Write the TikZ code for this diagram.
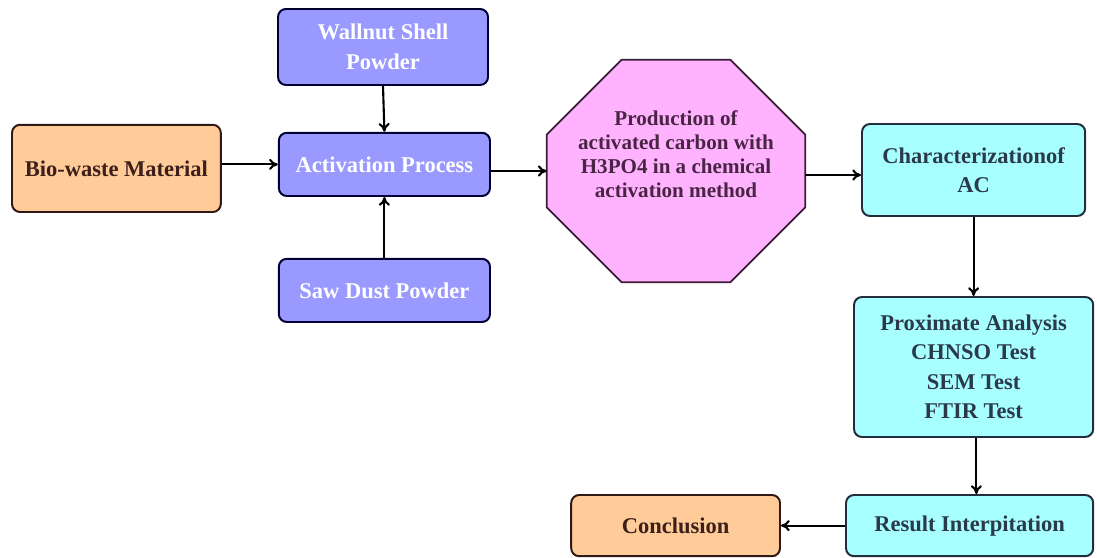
\documentclass[tikz,border=0pt]{standalone}
\usepackage{fontspec}
\setmainfont{Liberation Serif}
\usetikzlibrary{positioning,arrows.meta}
\definecolor{orfill}{HTML}{FFCC99}
\definecolor{blfill}{HTML}{9999FF}
\definecolor{pkfill}{HTML}{FFB3FF}
\definecolor{cyfill}{HTML}{A8FFFF}
\definecolor{brtext}{HTML}{3C1F1A}
\definecolor{pktext}{HTML}{4A2444}
\definecolor{cytext}{HTML}{2B3A4B}
\newcommand{\chamf}{1.875cm}
\tikzset{
  box/.style={draw, line width=1.4pt, rounded corners=0.2cm, align=center,
    font=\fontsize{16}{21}\selectfont\bfseries},
  orbox/.style={box, fill=orfill, draw=brtext!80!black, text=brtext},
  blbox/.style={box, fill=blfill, draw=blue!20!black, text=white},
  cybox/.style={box, fill=cyfill, draw=cytext!80!black, text=cytext},
  octline/.style={draw=pktext!80!black, line width=1.3pt, fill=pkfill},
  arr/.style={line width=1.5pt, -{To[length=2.2mm,width=2.8mm]}}
}
\begin{document}
\begin{tikzpicture}
  \useasboundingbox (0,0) rectangle (27.425,-13.95);
  % ------------------------------------------------------------------ raw material
  \node[orbox, minimum width=5.22cm, minimum height=2.18cm] (bio) at (2.91,-4.21) {Bio-waste Material};
  \node[blbox, minimum width=5.25cm, minimum height=1.9cm] (wall) at (9.575,-1.175) {Wallnut Shell\\Powder};
  \node[blbox, minimum width=5.28cm, minimum height=1.58cm] (act) at (9.61,-4.11) {Activation Process};
  \node[blbox, minimum width=5.28cm, minimum height=1.58cm] (saw) at (9.61,-7.26) {Saw Dust Powder};
  % ------------------------------------------------------------------ production (octagon)
  \node[minimum width=6.45cm, minimum height=5.55cm, inner sep=0pt] (oct) at (16.9,-4.275) {};
  \draw[octline] ([xshift=\chamf]oct.north west) -- ([xshift=-\chamf]oct.north east)
    -- ([yshift=-\chamf]oct.north east) -- ([yshift=\chamf]oct.south east)
    -- ([xshift=-\chamf]oct.south east) -- ([xshift=\chamf]oct.south west)
    -- ([yshift=\chamf]oct.south west) -- ([yshift=-\chamf]oct.north west) -- cycle;
  \node[align=center, text=pktext, font=\fontsize{15}{17}\selectfont\bfseries] (octtxt)
    at (16.9,-3.85) {Production of\\activated carbon with\\H3PO4 in a chemical\\activation method};
  % ------------------------------------------------------------------ characterization
  \node[cybox, minimum width=5.58cm, minimum height=2.3cm] (char) at (24.34,-4.25) {Characterizationof\\AC};
  \node[cybox, minimum width=5.98cm, minimum height=3.5cm] (prox) at (24.34,-9.175)
    {Proximate Analysis\\CHNSO Test\\SEM Test\\FTIR Test};
  \node[cybox, minimum width=6.18cm, minimum height=1.53cm] (res) at (24.24,-13.14) {Result Interpitation};
  \node[orbox, minimum width=5.22cm, minimum height=1.53cm] (conc) at (16.89,-13.14) {Conclusion};
  % ------------------------------------------------------------------ arrows
  \draw[arr] (bio.east |- act) -- (act.west);
  \draw[arr] (wall.south) -- (act.north);
  \draw[arr] (saw.north) -- (act.south);
  \draw[arr] (act.east |- oct) -- (oct.west);
  \draw[arr] ([yshift=-0.1cm]oct.east) -- ([yshift=-0.1cm]oct.east -| char.west);
  \draw[arr] (char.south) -- (prox.north);
  \draw[arr] ([xshift=0.07cm]prox.south) -- ([xshift=0.07cm]prox.south |- res.north);
  \draw[arr] (res.west) -- (conc.east);
\end{tikzpicture}
\end{document}
